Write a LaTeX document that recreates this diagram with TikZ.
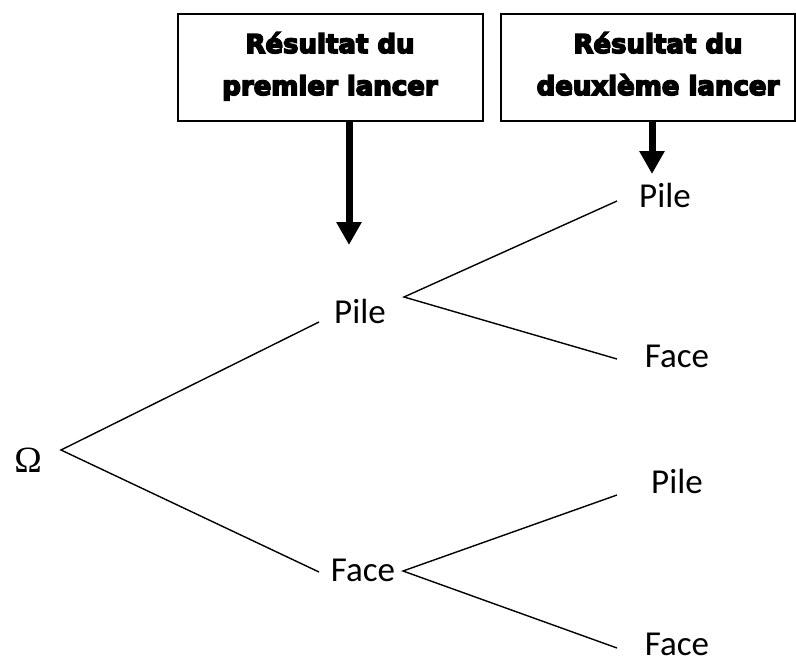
\documentclass[tikz,border=0pt]{standalone}
\usepackage{fontspec}
\usetikzlibrary{arrows.meta}
\newfontfamily\headfont[FakeBold=6]{DejaVu Sans Bold}
\newfontfamily\treefont{Carlito}
\newfontfamily\omegafont{Liberation Serif}
\begin{document}
\begin{tikzpicture}[x=1pt,y=-1pt,
  boxstyle/.style={draw, line width=1.5pt, minimum height=107pt, inner sep=0pt},
  head/.style={font=\headfont\fontsize{26}{42}\selectfont, align=center, inner sep=0pt, anchor=base},
  lbl/.style={font=\treefont\fontsize{35}{40}\selectfont, inner sep=0pt, anchor=base},
  branch/.style={line width=1.4pt},
  bigarrow/.style={line width=7pt, -{Triangle[width=24pt,length=23pt]}}]
\useasboundingbox (0,0) rectangle (796,664);
% boxes
\node[boxstyle, minimum width=305pt] (b1) at (330.5,67.5) {};
\node[boxstyle, minimum width=294pt] (b2) at (648,67.5) {};
\node[head] (h1) at (330,95) {Résultat du\\premier lancer};
\node[head] (h2) at (658,95) {Résultat du\\deuxième lancer};
% arrows
\coordinate (a1) at (349,245);
\coordinate (a2) at (652,174);
\draw[bigarrow] (b1.south -| a1) -- (a1);
\draw[bigarrow] (b2.south -| a2) -- (a2);
% labels
\node[lbl, font=\omegafont\fontsize{37}{40}\selectfont] (om) at (28,472) {Ω};
\node[lbl] (p1) at (360,323) {Pile};
\node[lbl] (f1) at (363,581) {Face};
\node[lbl] (pp) at (665,207) {Pile};
\node[lbl] (pf) at (677,367) {Face};
\node[lbl] (fp) at (677,493) {Pile};
\node[lbl] (ff) at (677,655) {Face};
% branch points
\coordinate (o) at (61,450);
\coordinate (o1) at (319,322);
\coordinate (o2) at (319,572);
\coordinate (v1) at (404,297);
\coordinate (v1a) at (617,201);
\coordinate (v1b) at (617,359);
\coordinate (v2) at (403,571);
\coordinate (v2a) at (617,495);
\coordinate (v2b) at (617,648);
\draw[branch] (o1) -- (o) -- (o2);
\draw[branch] (v1a) -- (v1) -- (v1b);
\draw[branch] (v2a) -- (v2) -- (v2b);
\end{tikzpicture}
\end{document}
